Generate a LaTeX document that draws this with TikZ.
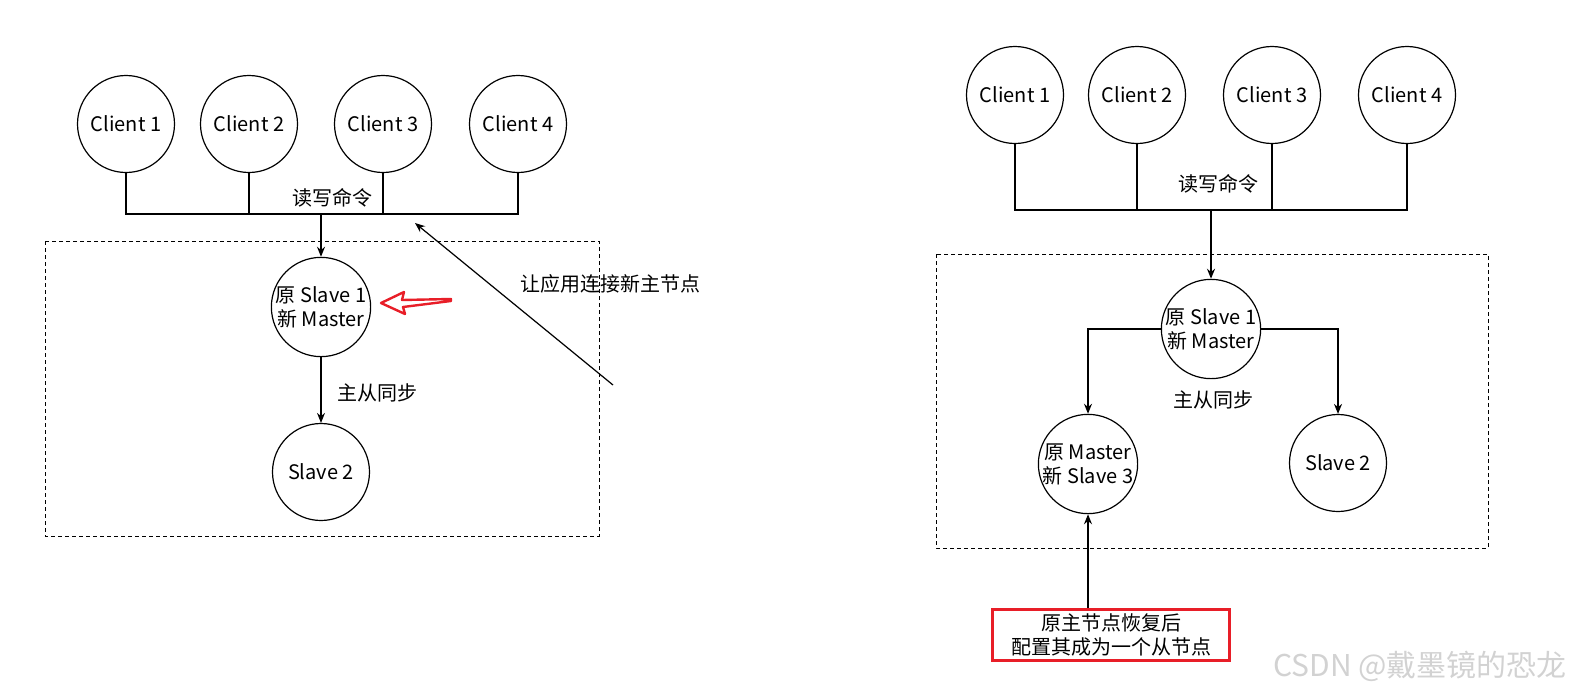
\documentclass[tikz,border=0pt]{standalone}
\usepackage{fontspec}
\setmainfont{Noto Sans CJK SC}
\usetikzlibrary{arrows,arrows.meta}
\definecolor{notered}{RGB}{232,30,40}

\begin{document}
\begin{tikzpicture}[x=1pt, y=-1pt, >={Stealth[length=10pt,width=8pt]}, font=\fontsize{20}{24}\selectfont]
	\tikzstyle{format} = [draw, line width=1.2pt, circle, minimum size=97pt, inner sep=0pt, align=center]
	\tikzstyle{frame} = [draw, line width=1pt, dash pattern=on 4pt off 3pt]
	\tikzstyle{bus} = [line width=1.2pt]
	\tikzstyle{cmd} = [->, line width=1.8pt]
	\useasboundingbox (0,0) rectangle (1578,696);

	% left: clients now talk to the new master
	\begin{scope}
	\draw[frame] (45,241) rectangle (599,536);
	\path
	node[format] (cl1) at (126,124) {Client 1}
	node[format] (cl2) at (249,124) {Client 2}
	node[format] (cl3) at (383,124) {Client 3}
	node[format] (cl4) at (518,124) {Client 4}
	node[format] (nml) at (321,307) {原 Slave 1\\新 Master}
	node[format] (sl2) at (321,472) {Slave 2}
	node (rwl) at (332,198) {读写命令}
	node (syl) at (377,393) {主从同步}
	node (hint) at (610,284) {让应用连接新主节点};
	\coordinate (busl) at (0,214);
	\coordinate (tail) at (613,385);
	\coordinate (head) at (415,223);

	\draw[bus] (cl1.south) |- (cl4.south |- busl) -- (cl4.south);
	\draw[bus] (cl2.south) -- (cl2.south |- busl);
	\draw[bus] (cl3.south) -- (cl3.south |- busl);
	\draw[cmd] (nml.north |- busl) -- (nml);
	\draw[->, line width=1.2pt] (nml) -- (sl2);
	\draw[->, line width=1.2pt] (tail) -- (head);
	\draw[notered, line width=2.4pt, line join=round]
	(381,303) -- (404,292) -- (402,300) -- (451,299) -- (451,301) -- (403,307) -- (405,314) -- cycle;
	\end{scope}

	% right: old master comes back as a slave
	\begin{scope}
	\draw[frame] (936,254) rectangle (1488,548);
	\path
	node[format] (cr1) at (1015,95) {Client 1}
	node[format] (cr2) at (1137,95) {Client 2}
	node[format] (cr3) at (1272,95) {Client 3}
	node[format] (cr4) at (1407,95) {Client 4}
	node[format] (nmr) at (1211,329) {原 Slave 1\\新 Master}
	node[format] (os3) at (1088,464) {原 Master\\新 Slave 3}
	node[format] (sr2) at (1338,463) {Slave 2}
	node (rwr) at (1218,184) {读写命令}
	node (syr) at (1213,400) {主从同步}
	node[draw=notered, line width=3pt, minimum width=237pt, minimum height=51pt, align=center] (note) at (1111,635) {原主节点恢复后\hspace{12pt}\\配置其成为一个从节点\hspace{12pt}};
	\coordinate (busr) at (0,210);

	\draw[bus] (cr1.south) |- (cr4.south |- busr) -- (cr4.south);
	\draw[bus] (cr2.south) -- (cr2.south |- busr);
	\draw[bus] (cr3.south) -- (cr3.south |- busr);
	\draw[cmd] (nmr.north |- busr) -- (nmr);
	\draw[->, line width=1.2pt] (nmr.west) -| (os3.north);
	\draw[->, line width=1.2pt] (nmr.east) -| (sr2.north);
	\draw[->, line width=1.2pt] (os3 |- note.north) -- (os3.south);
	\end{scope}

	\node[gray!35, font=\fontsize{30}{34}\selectfont] (mark) at (1420,666) {CSDN @戴墨镜的恐龙};
\end{tikzpicture}
\end{document}
